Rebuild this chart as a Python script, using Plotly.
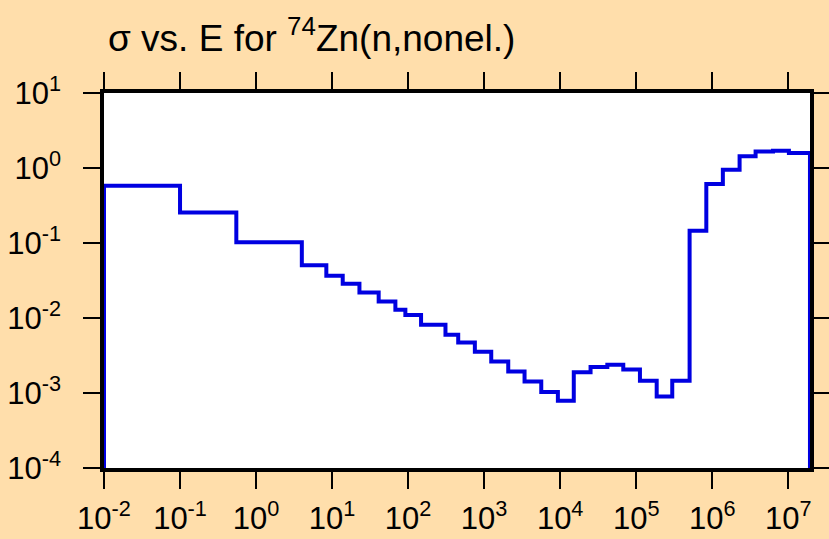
import plotly.graph_objects as go

# Group boundaries (eV) and cross sections (b)
energy_edges = [0.01, 0.1, 0.55, 4.0, 8.4, 13.8, 22.9, 41, 68, 92, 148, 310, 456, 755,
                1240, 2075, 3400, 5640, 9330, 15100, 25100, 41700, 67600, 112000,
                186000, 298000, 504000, 836000, 1.38e6, 2.29e6, 3.72e6, 6.3e6, 1.02e7, 1.93e7]
sigma = [0.581, 0.256, 0.1025, 0.0506, 0.0366, 0.0287, 0.0219, 0.01663, 0.0129, 0.01096,
         0.00815, 0.00599, 0.00473, 0.00356, 0.00264, 0.00194, 0.00142, 0.001035, 0.000789,
         0.00189, 0.00222, 0.00238, 0.00205, 0.00146, 0.000901, 0.00146, 0.146, 0.612,
         0.948, 1.43, 1.66, 1.70, 1.585]
floor_value = 1e-8

x_tick_exponents = [-2, -1, 0, 1, 2, 3, 4, 5, 6, 7]
y_tick_exponents = [-4, -3, -2, -1, 0, 1]

xs = [energy_edges[0]] + energy_edges + [energy_edges[-1]]
ys = [floor_value] + sigma + [sigma[-1], floor_value]

bg = "#FFDEAB"
font_family = "Liberation Sans, Arial, sans-serif"
fig = go.Figure()
fig.add_trace(go.Scatter(x=xs, y=ys, mode="lines", line=dict(color="rgb(0,0,225)", width=4, shape="hv"),
                         showlegend=False, hoverinfo="skip"))

def ticks(exps):
    return [10.0 ** e for e in exps], ["10<sup>%d</sup>" % e for e in exps]

axis_common = dict(type="log", showgrid=False, zeroline=False, showline=True, linecolor="black",
                   linewidth=3.5, mirror="ticks", ticks="outside", ticklen=17, tickwidth=2,
                   tickcolor="black", tickmode="array",
                   tickfont=dict(family=font_family, size=31, color="black"))

xv, xt = ticks(x_tick_exponents)
yv, yt = ticks(y_tick_exponents)

fig.update_layout(
    width=829, height=539,
    paper_bgcolor=bg, plot_bgcolor="white",
    margin=dict(l=104, r=19, t=93, b=71, autoexpand=False),
    title=dict(text="σ vs. E for <sup>74</sup>Zn(n,nonel.)", x=0, xref="paper", xanchor="left",
               y=1 - 38 / 539, yanchor="middle", pad=dict(l=4),
               font=dict(family=font_family, size=37, color="black")),
    xaxis=dict(range=[-2, 7.286], tickvals=xv, ticktext=xt, ticklabelstandoff=3, **axis_common),
    yaxis=dict(range=[-4, 1], tickvals=yv, ticktext=yt, ticklabelstandoff=16, **axis_common),
)
fig.write_html("out.html", config={"displayModeBar": False},
               post_script="document.body.style.margin='0';document.body.style.overflow='hidden';")
